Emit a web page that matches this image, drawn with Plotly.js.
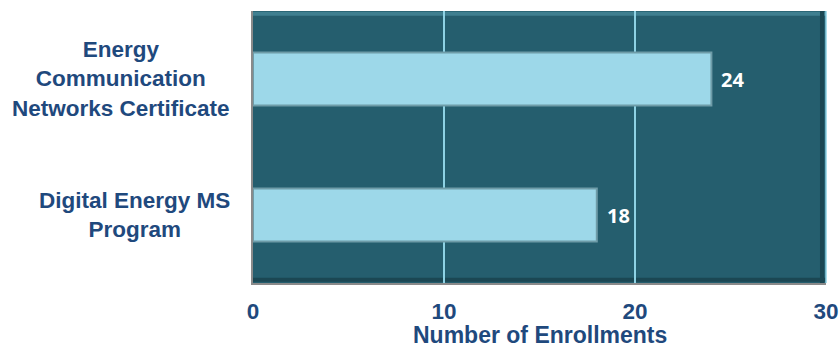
<!DOCTYPE html>
<html>
<head>
<meta charset="utf-8">
<script src="https://cdn.plot.ly/plotly-3.0.1.min.js"></script>
<style>
  html, body { margin: 0; padding: 0; background: #ffffff; }
  #chart { width: 840px; height: 350px; }
</style>
</head>
<body>
<div id="chart"></div>
<script>
// Data
const programs = ["Digital Energy MS<br>Program", "Energy<br>Communication<br>Networks Certificate"];
const enrollments = [18, 24];
const xTicks = [0, 10, 20, 30];
const xTitle = "Number of Enrollments";

const textColor = "#1F497D";

const trace = {
  type: "bar",
  orientation: "h",
  y: programs,
  x: enrollments,
  width: 0.39,
  marker: {
    color: "#9DD8E9",
    line: { color: "#6F9CA8", width: 2 }
  },
  hoverinfo: "skip"
};

const valueLabels = enrollments.map((v, i) => ({
  x: v, y: programs[i], xref: "x", yref: "y",
  text: String(v), showarrow: false,
  xanchor: "left", yanchor: "middle", xshift: 8,
  font: { family: "Open Sans, Lato, sans-serif", size: 20, color: "#ffffff", weight: "bold" }
}));

const catLabels = programs.map((p) => ({
  x: 0, y: p, xref: "paper", yref: "y",
  text: "<b>" + p + "</b>", showarrow: false,
  xanchor: "right", yanchor: "middle", xshift: -21, align: "center",
  font: { family: "Liberation Sans, Arial, sans-serif", size: 22.5, color: textColor }
}));

const titleLabel = {
  x: 0.5, y: 0, xref: "paper", yref: "paper",
  text: "<b>" + xTitle + "</b>", showarrow: false,
  xanchor: "center", yanchor: "top", yshift: -38, borderpad: 0,
  font: { family: "Liberation Sans, Arial, sans-serif", size: 23, color: textColor }
};

const layout = {
  width: 840, height: 350,
  margin: { l: 253, r: 14, t: 11, b: 67 },
  paper_bgcolor: "#ffffff",
  plot_bgcolor: "#255E6E",
  showlegend: false,
  bargap: 0.6,
  xaxis: {
    range: [0, 30],
    tickvals: xTicks,
    ticktext: xTicks.map(t => "<b>" + t + "</b>"),
    showgrid: true,
    gridcolor: "#8ED2E4",
    gridwidth: 1.5,
    zeroline: false,
    showline: true,
    linecolor: "#8A8A8A",
    linewidth: 2,
    ticks: "",
    ticklabelstandoff: 7,
    tickfont: { family: "Liberation Sans, Arial, sans-serif", size: 22.5, color: textColor },
    fixedrange: true
  },
  yaxis: {
    range: [-0.5, 1.5],
    showticklabels: false,
    showgrid: false,
    zeroline: false,
    showline: true,
    linecolor: "#8A8A8A",
    linewidth: 2,
    ticks: "",
    fixedrange: true
  },
  shapes: [
    { type: "line", xref: "paper", yref: "paper", x0: 0, x1: 1, y0: 0.99, y1: 0.99,
      line: { color: "#3F7F90", width: 4 }, layer: "below" },
    { type: "line", xref: "paper", yref: "paper", x0: 0, x1: 1, y0: 0.012, y1: 0.012,
      line: { color: "#1B4753", width: 4 }, layer: "below" },
    { type: "line", xref: "paper", yref: "paper", x0: 0.993, x1: 0.993, y0: 0, y1: 1,
      line: { color: "#1B4753", width: 4 }, layer: "below" },
    { type: "line", xref: "paper", yref: "paper", x0: 1, x1: 1, y0: 0, y1: 1,
      line: { color: "#8ED2E4", width: 1.5 } }
  ],
  annotations: valueLabels.concat(catLabels, [titleLabel])
};

Plotly.newPlot("chart", [trace], layout, { displayModeBar: false, staticPlot: true });
</script>
</body>
</html>
